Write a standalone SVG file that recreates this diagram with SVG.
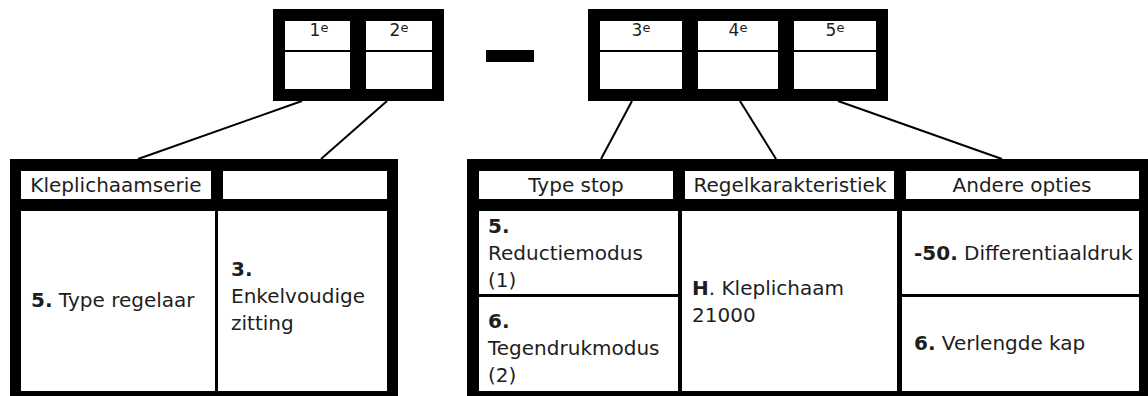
<svg xmlns="http://www.w3.org/2000/svg" width="1148" height="396" viewBox="0 0 1148 396">
<style>
.blk{fill:#000}
.cell{fill:#fff}
.conn{stroke:#000;stroke-width:2;fill:none}
text{font-family:"DejaVu Sans","Liberation Sans",sans-serif;fill:#1e1e1e}
.t{font-size:20px}
.top{font-size:17px;text-anchor:middle}
.sup{font-size:13px}
.c{text-anchor:middle}
.b{font-weight:bold}
</style>
<rect width="1148" height="396" fill="#fff"/>
<g id="connectors">
<line class="conn" x1="302" y1="101" x2="138" y2="159"/>
<line class="conn" x1="387" y1="101" x2="321" y2="159"/>
<line class="conn" x1="632" y1="101" x2="601" y2="159"/>
<line class="conn" x1="740" y1="101" x2="776" y2="159"/>
<line class="conn" x1="838" y1="101" x2="1002" y2="159"/>
</g>
<g id="code-left">
<rect class="blk" x="273" y="9" width="171" height="92"/>
<rect class="cell" x="285" y="21" width="65" height="68"/>
<rect class="cell" x="366" y="21" width="66" height="68"/>
<rect class="blk" x="285" y="50" width="65" height="2"/>
<rect class="blk" x="366" y="50" width="66" height="2"/>
<text class="top" x="319" y="36">1<tspan class="sup" dy="-4">e</tspan></text>
<text class="top" x="399" y="36">2<tspan class="sup" dy="-4">e</tspan></text>
</g>
<g id="dash">
<rect class="blk" x="486" y="50" width="48" height="12"/>
</g>
<g id="code-right">
<rect class="blk" x="588" y="9" width="300" height="92"/>
<rect class="cell" x="600" y="21" width="82" height="68"/>
<rect class="cell" x="698" y="21" width="80" height="68"/>
<rect class="cell" x="794" y="21" width="82" height="68"/>
<rect class="blk" x="600" y="50" width="82" height="2"/>
<rect class="blk" x="698" y="50" width="80" height="2"/>
<rect class="blk" x="794" y="50" width="82" height="2"/>
<text class="top" x="641" y="36">3<tspan class="sup" dy="-4">e</tspan></text>
<text class="top" x="738" y="36">4<tspan class="sup" dy="-4">e</tspan></text>
<text class="top" x="835" y="36">5<tspan class="sup" dy="-4">e</tspan></text>
</g>
<g id="table-left">
<rect class="blk" x="10" y="159" width="388" height="245"/>
<rect class="cell" x="21" y="171" width="190" height="28"/>
<rect class="cell" x="223" y="171" width="164" height="28"/>
<rect class="cell" x="21" y="211" width="194" height="180"/>
<rect class="cell" x="218" y="211" width="169" height="180"/>
<text class="t c" x="116" y="192">Kleplichaamserie</text>
<text class="t" x="31" y="307"><tspan class="b">5.</tspan> Type regelaar</text>
<text class="t" x="231" y="276"><tspan class="b">3.</tspan></text>
<text class="t" x="231" y="303">Enkelvoudige</text>
<text class="t" x="231" y="330">zitting</text>
</g>
<g id="table-right">
<rect class="blk" x="467" y="159" width="690" height="245"/>
<rect class="cell" x="479" y="171" width="194" height="28"/>
<rect class="cell" x="685" y="171" width="209" height="28"/>
<rect class="cell" x="906" y="171" width="233" height="28"/>
<rect class="cell" x="479" y="211" width="199" height="83"/>
<rect class="cell" x="479" y="297" width="199" height="94"/>
<rect class="cell" x="682" y="211" width="215" height="180"/>
<rect class="cell" x="902" y="211" width="237" height="83"/>
<rect class="cell" x="902" y="297" width="237" height="94"/>
<text class="t c" x="576" y="192">Type stop</text>
<text class="t c" x="790" y="192">Regelkarakteristiek</text>
<text class="t c" x="1022" y="192">Andere opties</text>
<text class="t" x="488" y="233"><tspan class="b">5.</tspan></text>
<text class="t" x="488" y="260">Reductiemodus</text>
<text class="t" x="488" y="287">(1)</text>
<text class="t" x="488" y="328"><tspan class="b">6.</tspan></text>
<text class="t" x="488" y="355">Tegendrukmodus</text>
<text class="t" x="488" y="382">(2)</text>
<text class="t" x="692" y="295"><tspan class="b">H</tspan>. Kleplichaam</text>
<text class="t" x="692" y="322">21000</text>
<text class="t" x="914" y="260"><tspan class="b">-50.</tspan> Differentiaaldruk</text>
<text class="t" x="914" y="350"><tspan class="b">6.</tspan> Verlengde kap</text>
</g>
</svg>
